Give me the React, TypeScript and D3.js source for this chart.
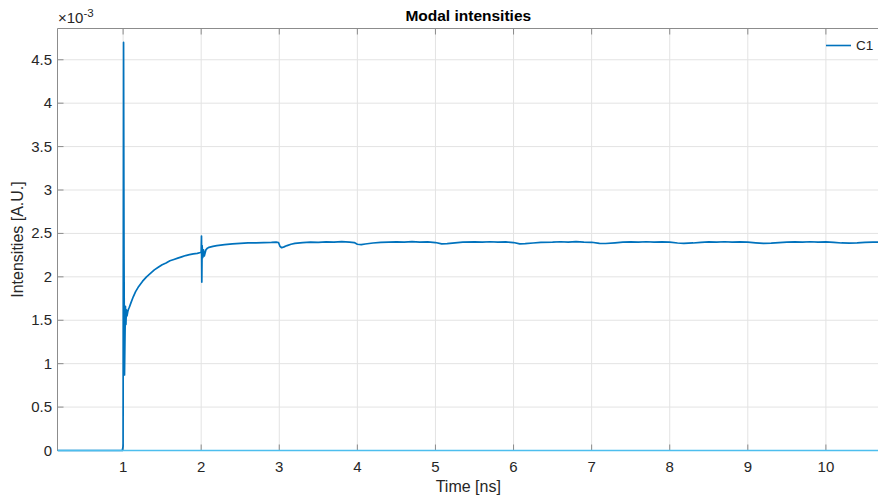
import React from "react";
import * as d3 from "d3";

// Time axis (ns) and modal intensity of C1 (in units of 1e-3 A.U.)
const timeNs = [
  0.16, 0.6, 0.99, 1.0, 1.006, 1.012, 1.018, 1.024, 1.03, 1.036, 1.042, 1.05, 1.06, 1.07, 1.08,
  1.1, 1.13, 1.16, 1.2, 1.25, 1.3, 1.35, 1.4, 1.45, 1.5, 1.55, 1.6, 1.65, 1.7, 1.75, 1.8, 1.85,
  1.9, 1.95, 1.99, 2.0, 2.004, 2.008, 2.012, 2.02, 2.03, 2.04, 2.06, 2.08, 2.1, 2.15, 2.2, 2.25,
  2.3, 2.4, 2.5, 2.6, 2.7, 2.8, 2.9, 2.96, 2.99, 3.01, 3.03, 3.06, 3.1, 3.15, 3.2, 3.3, 3.4, 3.5,
  3.6, 3.7, 3.8, 3.9, 3.96, 4.0, 4.05, 4.1, 4.2, 4.3, 4.4, 4.5, 4.6, 4.7, 4.8, 4.9, 5.0, 5.08,
  5.15, 5.25, 5.35, 5.5, 5.6, 5.7, 5.8, 5.9, 6.0, 6.08, 6.15, 6.25, 6.35, 6.5, 6.6, 6.7, 6.8, 6.9,
  7.0, 7.1, 7.18, 7.3, 7.4, 7.5, 7.6, 7.7, 7.8, 7.9, 8.0, 8.1, 8.18, 8.3, 8.4, 8.5, 8.6, 8.7, 8.8,
  8.9, 9.0, 9.1, 9.2, 9.3, 9.4, 9.5, 9.6, 9.7, 9.8, 9.9, 10.0, 10.1, 10.2, 10.3, 10.4, 10.5, 10.6,
  10.7,
];

const intensityC1 = [
  0, 0, 0, 0.05, 4.7, 2.2, 0.87, 1.3, 1.66, 1.45, 1.62, 1.55, 1.6, 1.63, 1.65,
  1.7, 1.77, 1.83, 1.89, 1.95, 2.0, 2.04, 2.08, 2.11, 2.14, 2.16, 2.185, 2.2, 2.215, 2.23, 2.245, 2.255,
  2.265, 2.27, 2.28, 2.29, 2.47, 1.94, 2.36, 2.22, 2.31, 2.24, 2.31, 2.33, 2.34, 2.35, 2.36, 2.365,
  2.37, 2.38, 2.385, 2.39, 2.392, 2.395, 2.397, 2.4, 2.395, 2.35, 2.335, 2.345, 2.36, 2.375, 2.385, 2.395, 2.4, 2.398,
  2.403, 2.4, 2.405, 2.4, 2.395, 2.375, 2.37, 2.378, 2.39, 2.398, 2.4, 2.403, 2.4, 2.405, 2.4, 2.402, 2.395, 2.38,
  2.383, 2.392, 2.4, 2.403, 2.4, 2.404, 2.4, 2.402, 2.395, 2.38, 2.382, 2.39, 2.398, 2.4, 2.404, 2.4, 2.405, 2.4,
  2.398, 2.386, 2.384, 2.392, 2.4, 2.403, 2.4, 2.404, 2.4, 2.402, 2.4, 2.39, 2.385, 2.39, 2.398, 2.402, 2.4, 2.404, 2.4,
  2.402, 2.4, 2.392, 2.385, 2.388, 2.395, 2.4, 2.402, 2.4, 2.404, 2.4, 2.402, 2.398, 2.39, 2.388, 2.392, 2.398, 2.4,
  2.4,
];

// Flat reference trace along zero
const baselineTimes = [0.16, 10.7];
const baselineValues = [0, 0];

const xTicks = [1, 2, 3, 4, 5, 6, 7, 8, 9, 10];
const yTicks = [0, 0.5, 1, 1.5, 2, 2.5, 3, 3.5, 4, 4.5];
const yTickLabels = ["0", "0.5", "1", "1.5", "2", "2.5", "3", "3.5", "4", "4.5"];

const W = 878;
const H = 502;
const left = 57.5;
const right = 879;
const top = 28.5;
const bottom = 450.5;
const FONT = "'Liberation Sans', Arial, Helvetica, sans-serif";

export default function App() {
  const x = d3.scaleLinear().domain([0.16, 10.68]).range([left, right]);
  const y = d3.scaleLinear().domain([0, 4.86]).range([bottom, top]);

  const c1 = timeNs.map((t, i) => [t, intensityC1[i]] as [number, number]);
  const base = baselineTimes.map((t, i) => [t, baselineValues[i]] as [number, number]);
  const line = d3
    .line<[number, number]>()
    .x((d) => x(d[0]))
    .y((d) => y(d[1]));

  const axisColor = "#8c8c8c";
  const gridColor = "#e3e3e3";
  const textColor = "#262626";

  return (
    <svg
      width={W}
      height={H}
      style={{ position: "fixed", left: 0, top: 0, background: "#fff" }}
      fontFamily={FONT}
    >
      <defs>
        <clipPath id="plotClip">
          <rect x={left} y={top - 2} width={right - left} height={bottom - top + 4} />
        </clipPath>
      </defs>

      {/* grid */}
      {xTicks.map((t) => (
        <line key={"gx" + t} x1={x(t)} x2={x(t)} y1={top} y2={bottom} stroke={gridColor} strokeWidth={1} />
      ))}
      {yTicks.map((t) => (
        <line key={"gy" + t} x1={left} x2={right} y1={y(t)} y2={y(t)} stroke={gridColor} strokeWidth={1} />
      ))}

      {/* axes box */}
      <line x1={left} x2={left} y1={top} y2={bottom} stroke={axisColor} />
      <line x1={left} x2={right} y1={top} y2={top} stroke={axisColor} />
      <line x1={left} x2={right} y1={bottom} y2={bottom} stroke={axisColor} />

      {/* ticks */}
      {xTicks.map((t) => (
        <g key={"tx" + t}>
          <line x1={x(t)} x2={x(t)} y1={bottom} y2={bottom - 6} stroke={axisColor} />
          <line x1={x(t)} x2={x(t)} y1={top} y2={top + 6} stroke={axisColor} />
          <text x={x(t)} y={bottom + 21} textAnchor="middle" fontSize={15} fill={textColor}>
            {t}
          </text>
        </g>
      ))}
      {yTicks.map((t, i) => (
        <g key={"ty" + t}>
          <line x1={left} x2={left + 6} y1={y(t)} y2={y(t)} stroke={axisColor} />
          <text x={52} y={y(t) + 5} textAnchor="end" fontSize={15} fill={textColor}>
            {yTickLabels[i]}
          </text>
        </g>
      ))}

      {/* data */}
      <g clipPath="url(#plotClip)">
        <path d={line(c1) || ""} fill="none" stroke="#0072BD" strokeWidth={1.7} strokeLinejoin="round" />
        <path d={line(base) || ""} fill="none" stroke="#4DBEEE" strokeWidth={1.6} />
      </g>

      {/* exponent */}
      <text x={58} y={23} fontSize={15} fill={textColor}>
        ×10
        <tspan dy={-6} fontSize={11.5}>
          -3
        </tspan>
      </text>

      {/* title and labels */}
      <text x={(left + right) / 2} y={21} textAnchor="middle" fontSize={15.5} fontWeight="bold" fill="#000">
        Modal intensities
      </text>
      <text x={(left + right) / 2} y={492} textAnchor="middle" fontSize={16} fill={textColor}>
        Time [ns]
      </text>
      <text
        transform={`translate(23, ${(top + bottom) / 2}) rotate(-90)`}
        textAnchor="middle"
        fontSize={16}
        fill={textColor}
      >
        Intensities [A.U.]
      </text>

      {/* legend */}
      <line x1={826} x2={851} y1={45.5} y2={45.5} stroke="#0072BD" strokeWidth={1.6} />
      <text x={856} y={50} fontSize={13.5} fill={textColor}>
        C1
      </text>
    </svg>
  );
}
